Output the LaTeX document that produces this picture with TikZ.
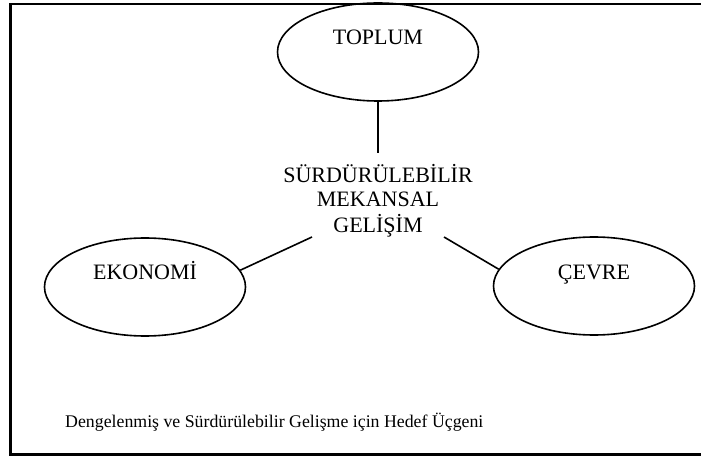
\documentclass[tikz,border=0pt]{standalone}
\usepackage{fontspec}
\setmainfont{Liberation Serif}
\usetikzlibrary{shapes.geometric}
\begin{document}
\begin{tikzpicture}[x=1pt,y=-1pt,
  ell/.style={draw,ellipse,line width=1.6pt,inner sep=0pt,minimum width=201pt,minimum height=98pt},
  lbl/.style={font=\fontsize{22}{25}\selectfont,inner sep=0pt,anchor=base},
  conn/.style={line width=1.6pt}]
\useasboundingbox (0,0) rectangle (701,457);
\draw[line width=2.5pt] (10.5,4.2) rectangle (730,454.5);
% ellipses
\node[ell] (top) at (378,52) {};
\node[ell] (ek) at (145,287) {};
\node[ell] (ce) at (594,286) {};
% labels
\node[lbl] (toplbl) at (378,45) {TOPLUM};
\node[lbl] (eklbl) at (145,279) {EKONOMİ};
\node[lbl] (celbl) at (594,279) {ÇEVRE};
\node[lbl,align=center] (cent) at (378,232) {SÜRDÜRÜLEBİLİR\\MEKANSAL\\GELİŞİM};
% connector ends near the central text
\coordinate (vt) at (378,153);
\coordinate (lt) at (312,237);
\coordinate (rt) at (444,237);
\draw[conn] (top.south) -- (vt);
\draw[conn] (lt) -- (ek.10);
\draw[conn] (rt) -- (ce.170);
% caption
\node[font=\fontsize{17.8}{20}\selectfont,inner sep=0pt,anchor=base west] (cap) at (65,427) {Dengelenmiş ve Sürdürülebilir Gelişme için Hedef Üçgeni};
\end{tikzpicture}
\end{document}
